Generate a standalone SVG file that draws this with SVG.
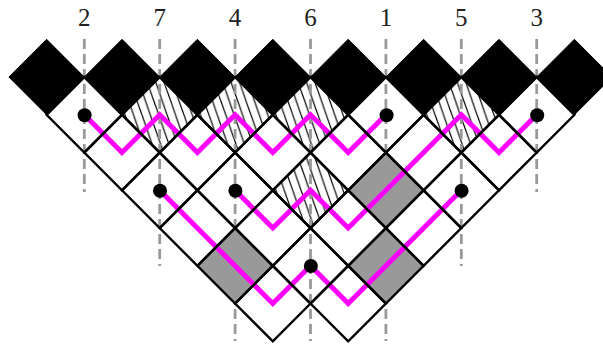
<svg xmlns="http://www.w3.org/2000/svg" xmlns:xlink="http://www.w3.org/1999/xlink" width="603" height="345" viewBox="0 0 603 345">
<style>
.lbl{font-family:"Liberation Serif","Times New Roman",serif;font-size:25px;fill:#222;text-anchor:middle}
.cell{fill:none;stroke:#000;stroke-width:2.4;stroke-linejoin:miter}
.blk{fill:#000;stroke:#000;stroke-width:1}
.gry{fill:#999}
.hat{fill:url(#hatch)}
.dash{stroke:#999;stroke-width:2.8;stroke-dasharray:10 5;fill:none}
.path{fill:none;stroke:#f0f;stroke-width:5;stroke-linejoin:miter}
.dot{fill:#000}
</style>
<defs>
<polygon id="d" points="-37.7,0 0,-37.75 37.7,0 0,37.75"/>
<pattern id="hatch" patternUnits="userSpaceOnUse" width="8.4" height="24" patternTransform="translate(-1,0)">
<path d="M0,0L8.4,24M-8.4,0L0,24M8.4,0L16.8,24" fill="none" stroke="#000" stroke-width="1.2"/>
</pattern>
</defs>
<rect width="603" height="345" fill="#fff"/>
<g id="labels">
<text class="lbl" x="84.3" y="26">2</text>
<text class="lbl" x="159.7" y="26">7</text>
<text class="lbl" x="235.1" y="26">4</text>
<text class="lbl" x="310.5" y="26">6</text>
<text class="lbl" x="385.9" y="26">1</text>
<text class="lbl" x="461.3" y="26">5</text>
<text class="lbl" x="536.7" y="26">3</text>
</g>
<g id="hatched-fills">
<use href="#d" class="hat" x="159.7" y="114.8"/>
<use href="#d" class="hat" x="235.1" y="114.8"/>
<use href="#d" class="hat" x="310.5" y="114.8"/>
<use href="#d" class="hat" x="461.3" y="114.8"/>
<use href="#d" class="hat" x="310.5" y="190.3"/>
</g>
<g id="connectors-guides">
<path class="dash" d="M84.3,39V192"/>
<path class="dash" d="M159.7,39V266"/>
<path class="dash" d="M235.1,39V341"/>
<path class="dash" d="M310.5,39V341"/>
<path class="dash" d="M385.9,39V341"/>
<path class="dash" d="M461.3,39V266"/>
<path class="dash" d="M536.7,39V192"/>
</g>
<g id="gray-fills">
<use href="#d" class="gry" x="385.9" y="190.3"/>
<use href="#d" class="gry" x="235.1" y="265.8"/>
<use href="#d" class="gry" x="385.9" y="265.8"/>
</g>
<g id="connectors">
<path class="path" d="M84.3,114.8L122,152.55L159.7,114.8L197.4,152.55L235.1,114.8L272.8,152.55L310.5,114.8L348.2,152.55L385.9,114.8"/>
<path class="path" d="M235.1,190.3L272.8,228.05L310.5,190.3L348.2,228.05L461.3,114.8L499,152.55L536.7,114.8"/>
<path class="path" d="M159.7,190.3L272.8,303.55L310.5,265.8L348.2,303.55L461.3,190.3"/>
</g>
<g id="cells">
<g id="c2-1"><use href="#d" class="cell" x="84.3" y="114.8"/></g>
<g id="c2-2"><use href="#d" class="cell" x="159.7" y="114.8"/></g>
<g id="c2-3"><use href="#d" class="cell" x="235.1" y="114.8"/></g>
<g id="c2-4"><use href="#d" class="cell" x="310.5" y="114.8"/></g>
<g id="c2-5"><use href="#d" class="cell" x="385.9" y="114.8"/></g>
<g id="c2-6"><use href="#d" class="cell" x="461.3" y="114.8"/></g>
<g id="c2-7"><use href="#d" class="cell" x="536.7" y="114.8"/></g>
<g id="c3-1"><use href="#d" class="cell" x="122" y="152.55"/></g>
<g id="c3-2"><use href="#d" class="cell" x="197.4" y="152.55"/></g>
<g id="c3-3"><use href="#d" class="cell" x="272.8" y="152.55"/></g>
<g id="c3-4"><use href="#d" class="cell" x="348.2" y="152.55"/></g>
<g id="c3-5"><use href="#d" class="cell" x="423.6" y="152.55"/></g>
<g id="c3-6"><use href="#d" class="cell" x="499" y="152.55"/></g>
<g id="c4-1"><use href="#d" class="cell" x="159.7" y="190.3"/></g>
<g id="c4-2"><use href="#d" class="cell" x="235.1" y="190.3"/></g>
<g id="c4-3"><use href="#d" class="cell" x="310.5" y="190.3"/></g>
<g id="c4-4"><use href="#d" class="cell" x="385.9" y="190.3"/></g>
<g id="c4-5"><use href="#d" class="cell" x="461.3" y="190.3"/></g>
<g id="c5-1"><use href="#d" class="cell" x="197.4" y="228.05"/></g>
<g id="c5-2"><use href="#d" class="cell" x="272.8" y="228.05"/></g>
<g id="c5-3"><use href="#d" class="cell" x="348.2" y="228.05"/></g>
<g id="c5-4"><use href="#d" class="cell" x="423.6" y="228.05"/></g>
<g id="c6-1"><use href="#d" class="cell" x="235.1" y="265.8"/></g>
<g id="c6-2"><use href="#d" class="cell" x="310.5" y="265.8"/></g>
<g id="c6-3"><use href="#d" class="cell" x="385.9" y="265.8"/></g>
<g id="c7-1"><use href="#d" class="cell" x="272.8" y="303.55"/></g>
<g id="c7-2"><use href="#d" class="cell" x="348.2" y="303.55"/></g>
</g>
<g id="black-cells">
<g id="b1"><use href="#d" class="blk" x="46.6" y="77.05"/></g>
<g id="b2"><use href="#d" class="blk" x="122" y="77.05"/></g>
<g id="b3"><use href="#d" class="blk" x="197.4" y="77.05"/></g>
<g id="b4"><use href="#d" class="blk" x="272.8" y="77.05"/></g>
<g id="b5"><use href="#d" class="blk" x="348.2" y="77.05"/></g>
<g id="b6"><use href="#d" class="blk" x="423.6" y="77.05"/></g>
<g id="b7"><use href="#d" class="blk" x="499" y="77.05"/></g>
<g id="b8"><use href="#d" class="blk" x="574.4" y="77.05"/></g>
</g>
<g id="dots">
<circle id="dot-2" class="dot" cx="84.6" cy="115.2" r="7"/>
<circle id="dot-1" class="dot" cx="386.6" cy="115.2" r="7"/>
<circle id="dot-3" class="dot" cx="537.2" cy="115.2" r="7"/>
<circle id="dot-7" class="dot" cx="160" cy="190.7" r="7"/>
<circle id="dot-4" class="dot" cx="235.4" cy="190.7" r="7"/>
<circle id="dot-5" class="dot" cx="461.6" cy="190.7" r="7"/>
<circle id="dot-6" class="dot" cx="310.9" cy="266" r="7"/>
</g>
</svg>
